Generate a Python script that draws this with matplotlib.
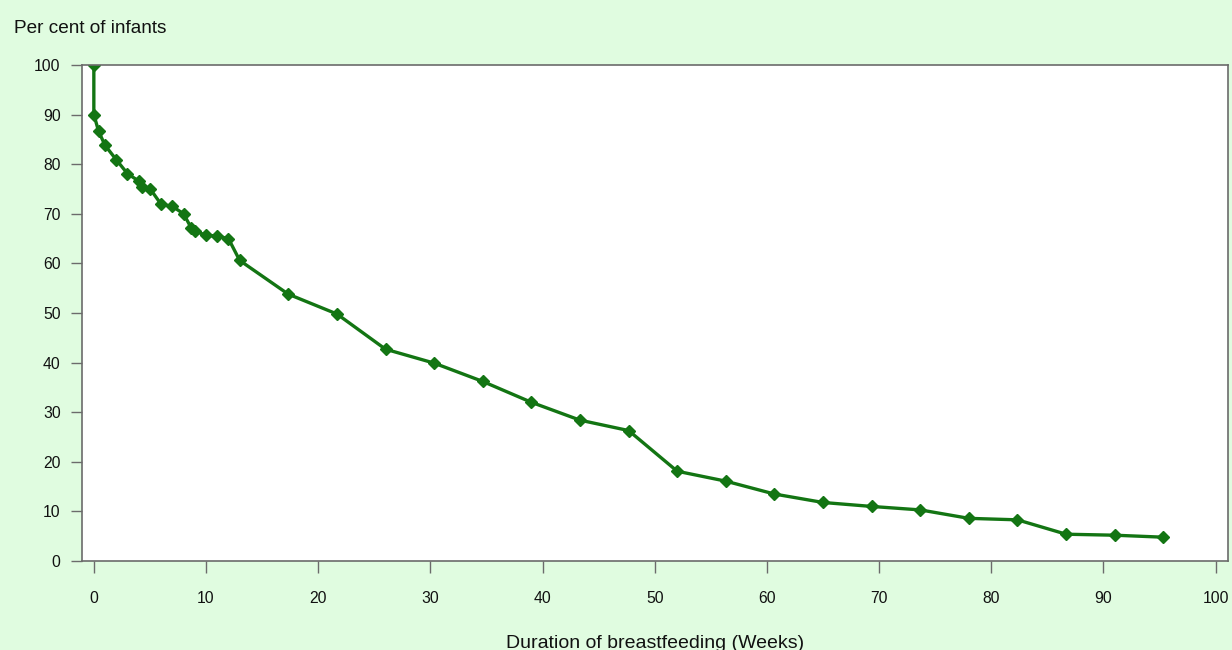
import matplotlib
matplotlib.use("Agg")
import matplotlib.pyplot as plt

weeks = [0, 0, 0.43, 1, 2, 3, 4, 4.33, 5, 6, 7, 8, 8.67, 9, 10, 11, 12, 13,
         17.33, 21.67, 26, 30.33, 34.67, 39, 43.33, 47.67, 52, 56.33, 60.67,
         65, 69.33, 73.67, 78, 82.33, 86.67, 91, 95.33]
percent = [100, 90.0, 86.6, 83.8, 80.9, 78.1, 76.6, 75.5, 75.1, 71.9, 71.5, 70.0,
           67.2, 66.5, 65.7, 65.5, 65.0, 60.6,
           53.8, 49.8, 42.7, 39.9, 36.2, 32.0, 28.4, 26.3, 18.1, 16.1, 13.5,
           11.8, 11.0, 10.3, 8.6, 8.3, 5.4, 5.2, 4.8]
xticks = [0, 10, 20, 30, 40, 50, 60, 70, 80, 90, 100]
yticks = [0, 10, 20, 30, 40, 50, 60, 70, 80, 90, 100]

plt.rcParams['font.family'] = ['Liberation Sans', 'DejaVu Sans']
bg = '#E0FCE0'
green = '#137513'
grey = '#6b6b6b'

fig = plt.figure(figsize=(12.32, 6.5), dpi=100, facecolor=bg)
ax = fig.add_axes([81.5/1232, 1-561/650, (1228-81.5)/1232, 496/650])
ax.set_facecolor('white')
ax.plot(weeks, percent, color=green, lw=2.4, marker='D', ms=6.5,
        mfc=green, mec=green, solid_joinstyle='round')
ax.set_xlim(-1.1, 101.1)
ax.set_ylim(0, 100)
ax.set_xticks(xticks)
ax.set_yticks(yticks)
for s in ax.spines.values():
    s.set_color(grey)
    s.set_linewidth(1.2)
ax.tick_params(axis='y', direction='out', length=8, width=1, color=grey,
               pad=7, labelsize=11.3, labelcolor='#111111')
ax.tick_params(axis='x', direction='out', length=8.5, width=1, color=grey,
               pad=13, labelsize=11.3, labelcolor='#111111')

fig.text(14/1232, 1-33/650, 'Per cent of infants', fontsize=13.7,
         ha='left', va='baseline', color='#111111')
fig.text(655/1232, 1-648/650, 'Duration of breastfeeding (Weeks)', fontsize=14,
         ha='center', va='baseline', color='#111111')

fig.savefig('out.png', dpi=100, facecolor=bg)
